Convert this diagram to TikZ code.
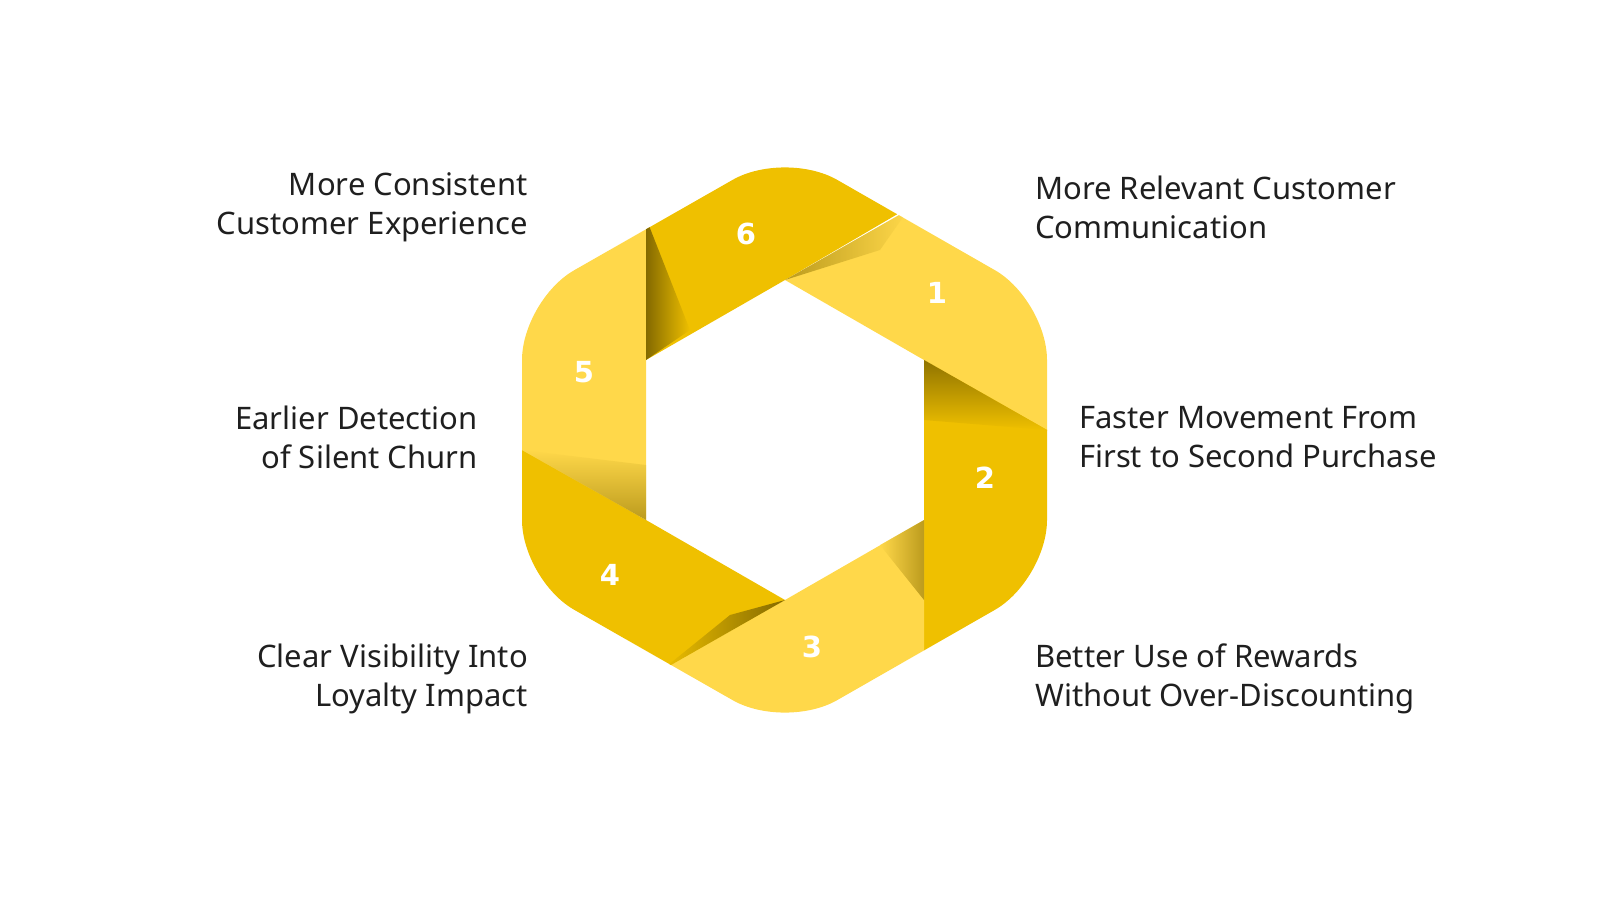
\documentclass[tikz,border=0pt]{standalone}
\usepackage{fontspec}
\setmainfont{Noto Sans}
\newfontfamily\numfont{DejaVu Sans}
\begin{document}
\begin{tikzpicture}[x=1pt,y=-1pt,
  lab/.style={font=\fontsize{31}{39}\selectfont, text=black!88, align=left, inner sep=0},
  labr/.style={lab, align=right},
  num/.style={font=\numfont\bfseries\fontsize{29}{29}\selectfont, text=white}]
\definecolor{dk}{HTML}{EFC000}
\definecolor{lt}{HTML}{FFD84A}
\useasboundingbox (0,0) rectangle (1600,900);
\begin{scope}
\clip[rounded corners=60] (785,150)--(1047,300)--(1047,580)--(785,730)--(522,580)--(522,300)--cycle;
\fill[dk] (646,218)--(785,120)--(930,195)--(785,280)--(646,360)--cycle;
\fill[lt] (908,210)--(1080,280)--(1080,450)--(924,360)--(785,280)--cycle;
\fill[dk] (924,360)--(1047,430)--(1080,430)--(1080,600)--(924,700)--(924,520)--cycle;
\fill[lt] (924,520)--(924,662)--(800,760)--(662,670)--(785,600)--cycle;
\fill[dk] (785,600)--(662,670)--(490,600)--(490,430)--(646,520)--cycle;
\fill[lt] (646,520)--(522,450)--(490,450)--(490,280)--(646,218)--(646,360)--cycle;
% shadows
\shade[left color=dk!60!black, right color=lt, opacity=.6] (785,280)--(908,210)--(880,250)--cycle;
\shade[top color=dk!60!black, bottom color=dk] (924,360)--(1047,430)--(924,420)--cycle;
\shade[right color=dk!60!black, left color=lt, opacity=.6] (924,520)--(924,600)--(880,545)--cycle;
\shade[right color=dk!55!black, left color=dk] (785,600)--(662,670)--(730,615)--cycle;
\shade[bottom color=dk!60!black, top color=lt, opacity=.6] (646,520)--(522,450)--(646,465)--cycle;
\shade[left color=dk!55!black, right color=dk] (646,360)--(646,218)--(690,330)--cycle;
\end{scope}
\node[num] (n6) at (746,234) {6};
\node[num] (n1) at (937,293) {1};
\node[num] (n2) at (985,478) {2};
\node[num] (n3) at (812,647) {3};
\node[num] (n4) at (610,575) {4};
\node[num] (n5) at (584,372) {5};
\node[labr, anchor=east] (l6) at (528,207) {More Consistent\\Customer Experience};
\node[lab, anchor=west] (l1) at (1035,207) {More Relevant Customer\\Communication};
\node[labr, anchor=east] (l5) at (478,437) {Earlier Detection\\of Silent Churn};
\node[lab, anchor=west] (l2) at (1079,437) {Faster Movement From\\First to Second Purchase};
\node[labr, anchor=east] (l4) at (528,679) {Clear Visibility Into\\Loyalty Impact};
\node[lab, anchor=west] (l3) at (1035,679) {Better Use of Rewards\\Without Over-Discounting};
\end{tikzpicture}
\end{document}
